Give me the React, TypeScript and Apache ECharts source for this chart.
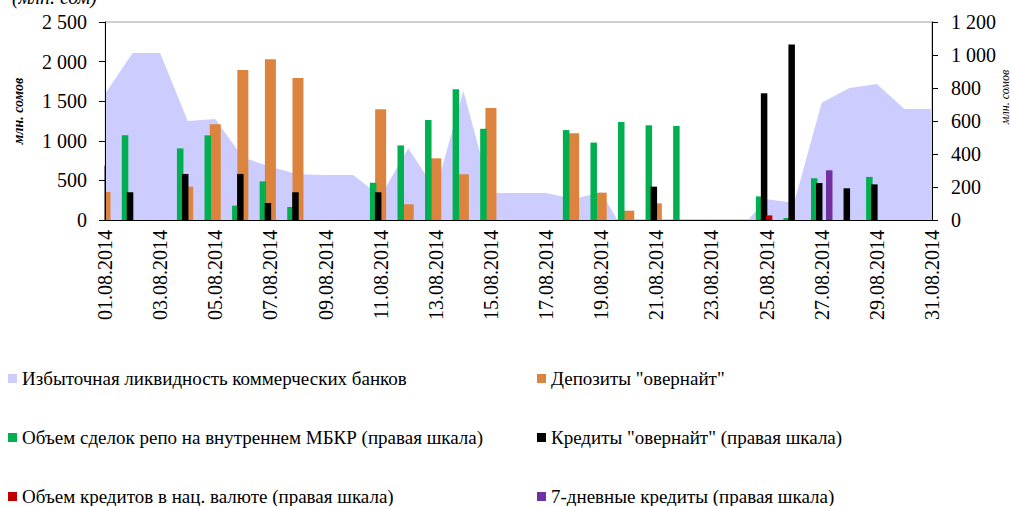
import React, { useEffect, useRef } from "react";
import * as echarts from "echarts";

const dates = [
  "01.08.2014","02.08.2014","03.08.2014","04.08.2014","05.08.2014","06.08.2014","07.08.2014","08.08.2014",
  "09.08.2014","10.08.2014","11.08.2014","12.08.2014","13.08.2014","14.08.2014","15.08.2014","16.08.2014",
  "17.08.2014","18.08.2014","19.08.2014","20.08.2014","21.08.2014","22.08.2014","23.08.2014","24.08.2014",
  "25.08.2014","26.08.2014","27.08.2014","28.08.2014","29.08.2014","30.08.2014","31.08.2014",
];

// Избыточная ликвидность (left axis)
const liquidity = [
  1591, 2109, 2109, 1250, 1275, 790, 673, 577, 568, 568, 300, 905, 375, 1633, 341, 341,
  341, 265, 350, -250, 0, 0, 0, -126, 261, 219, 1482, 1667, 1717, 1402, 1402,
];
// Депозиты "овернайт" (left axis)
const deposits = [
  354, 0, 0, 421, 1208, 1894, 2029, 1793, 0, 0, 1397, 198, 779, 577, 1414, 0,
  0, 1094, 345, 118, 210, 0, 0, 0, 0, 0, 0, 0, 0, 0, 0,
];
// Объем сделок репо (right axis)
const repo = [
  0, 513, 0, 434, 513, 87, 234, 79, 0, 0, 226, 452, 606, 792, 553, 0,
  0, 545, 469, 594, 574, 570, 0, 0, 143, 12, 253, 0, 261, 0, 0,
];
// Кредиты "овернайт" (right axis)
const overnightCredits = [
  329, 168, 0, 279, 0, 279, 103, 168, 0, 0, 168, 0, 0, 0, 0, 0,
  0, 0, 0, 0, 202, 0, 0, 0, 768, 1063, 224, 192, 216, 0, 0,
];
// Объем кредитов в нац. валюте (right axis)
const nationalCredits = [
  0, 0, 0, 0, 0, 0, 0, 0, 0, 0, 0, 0, 0, 0, 0, 0,
  0, 0, 0, 0, 0, 0, 0, 0, 28, 0, 0, 0, 0, 0, 0,
];
// 7-дневные кредиты (right axis)
const sevenDayCredits = [
  0, 0, 0, 0, 0, 0, 0, 0, 0, 0, 0, 0, 0, 0, 0, 0,
  0, 0, 0, 0, 0, 0, 0, 0, 0, 0, 301, 0, 0, 0, 0,
];

const names = {
  liq: "Избыточная ликвидность коммерческих банков",
  dep: 'Депозиты "овернайт"',
  repo: "Объем сделок репо на внутреннем МБКР (правая шкала)",
  ovn: 'Кредиты "овернайт" (правая шкала)',
  nat: "Объем кредитов в нац. валюте (правая шкала)",
  seven: "7-дневные кредиты (правая шкала)",
};

const colors = {
  liq: "#ccccff",
  dep: "#dc843d",
  repo: "#00b050",
  ovn: "#000000",
  nat: "#c00000",
  seven: "#7030a0",
};

const FONT = "Liberation Serif";

const fmt = (v: number) => String(v).replace(/\B(?=(\d{3})+(?!\d))/g, " ");

export default function App() {
  const ref = useRef<HTMLDivElement>(null);
  useEffect(() => {
    if (!ref.current) return;
    const chart = echarts.init(ref.current, undefined, { renderer: "svg" });
    const legendItem = (key: keyof typeof names, left: number, top: number) => ({
      data: [{ name: names[key], itemStyle: { color: colors[key] } }],
      left,
      top,
      padding: 0,
      orient: "horizontal",
      icon: "rect",
      itemWidth: 9,
      itemHeight: 9,
      selectedMode: false,
      textStyle: { fontFamily: FONT, fontSize: 19, color: "#000" },
    });
    const secBar = (key: keyof typeof names, data: number[]) => ({
      name: names[key],
      type: "bar",
      xAxisIndex: 1,
      yAxisIndex: 1,
      data,
      barWidth: 6.5,
      barGap: "-23%",
      clip: true,
      itemStyle: { color: colors[key] },
    });
    chart.setOption({
      animation: false,
      textStyle: { fontFamily: FONT },
      grid: {
        left: 105,
        right: 79,
        top: 22,
        bottom: 286,
        containLabel: false,
        show: true,
        borderColor: "#a0a0a0",
        borderWidth: 1,
        backgroundColor: "transparent",
      },
      legend: [
        legendItem("liq", 8, 369),
        legendItem("repo", 8, 428),
        legendItem("nat", 8, 487),
        legendItem("dep", 537, 369),
        legendItem("ovn", 537, 428),
        legendItem("seven", 537, 487),
      ],
      xAxis: [
        {
          type: "category",
          data: dates,
          boundaryGap: false,
          position: "bottom",
          axisLine: { show: true, lineStyle: { color: "#000", width: 1 } },
          axisTick: { show: false },
          splitLine: { show: false },
          axisLabel: {
            interval: 1,
            rotate: 90,
            margin: 10,
            fontFamily: FONT,
            fontSize: 20,
            color: "#000",
          },
          z: 200,
        },
        {
          type: "category",
          data: dates,
          boundaryGap: false,
          position: "bottom",
          show: false,
        },
      ],
      yAxis: [
        {
          type: "value",
          min: 0,
          max: 2500,
          interval: 500,
          position: "left",
          z: 200,
          axisLine: { show: true, lineStyle: { color: "#000", width: 1 } },
          axisTick: { show: true, length: 6, lineStyle: { color: "#000" } },
          splitLine: { show: false },
          axisLabel: { margin: 18, fontFamily: FONT, fontSize: 20, color: "#000", formatter: fmt },
        },
        {
          type: "value",
          min: 0,
          max: 1200,
          interval: 200,
          position: "right",
          z: 200,
          axisLine: { show: true, lineStyle: { color: "#000", width: 1 } },
          axisTick: { show: true, length: 6, lineStyle: { color: "#000" } },
          splitLine: { show: false },
          axisLabel: { margin: 19, fontFamily: FONT, fontSize: 20, color: "#000", formatter: fmt },
        },
      ],
      series: [
        {
          name: names.liq,
          type: "line",
          xAxisIndex: 0,
          yAxisIndex: 0,
          data: liquidity,
          symbol: "none",
          showSymbol: false,
          clip: true,
          itemStyle: { color: colors.liq },
          lineStyle: { width: 0, color: colors.liq },
          areaStyle: { color: colors.liq, opacity: 1 },
          z: 1,
        },
        {
          name: names.dep,
          type: "bar",
          xAxisIndex: 0,
          yAxisIndex: 0,
          data: deposits,
          barWidth: 11,
          clip: true,
          itemStyle: { color: colors.dep },
          z: 2,
        },
        secBar("repo", repo),
        secBar("ovn", overnightCredits),
        secBar("nat", nationalCredits),
        secBar("seven", sevenDayCredits),
      ],
      graphic: {
        elements: [
          {
            type: "rect",
            z: 100,
            silent: true,
            shape: { x: 89, y: 18, width: 15.5, height: 203 },
            style: { fill: "#ffffff" },
          },
          {
            type: "rect",
            z: 100,
            silent: true,
            shape: { x: 932.5, y: 18, width: 15, height: 203 },
            style: { fill: "#ffffff" },
          },
          {
            type: "text",
            x: 97,
            y: 7,
            z: 100,
            style: {
              text: "(млн. сом)",
              align: "right",
              verticalAlign: "bottom",
              font: `italic 20px ${FONT}`,
              fill: "#000",
            },
          },
          {
            type: "text",
            x: 18,
            y: 111,
            z: 100,
            rotation: Math.PI / 2,
            style: {
              text: "млн. сомов",
              align: "center",
              verticalAlign: "middle",
              font: `italic bold 14px ${FONT}`,
              fill: "#000",
            },
          },
          {
            type: "text",
            x: 1005,
            y: 97,
            z: 100,
            rotation: Math.PI / 2,
            style: {
              text: "млн. сомов",
              align: "center",
              verticalAlign: "middle",
              font: `italic 12px ${FONT}`,
              fill: "#000",
            },
          },
        ],
      },
    });
    return () => chart.dispose();
  }, []);
  return (
    <div
      ref={ref}
      style={{ position: "fixed", left: 0, top: 0, width: 1011, height: 506, background: "#fff" }}
    />
  );
}
